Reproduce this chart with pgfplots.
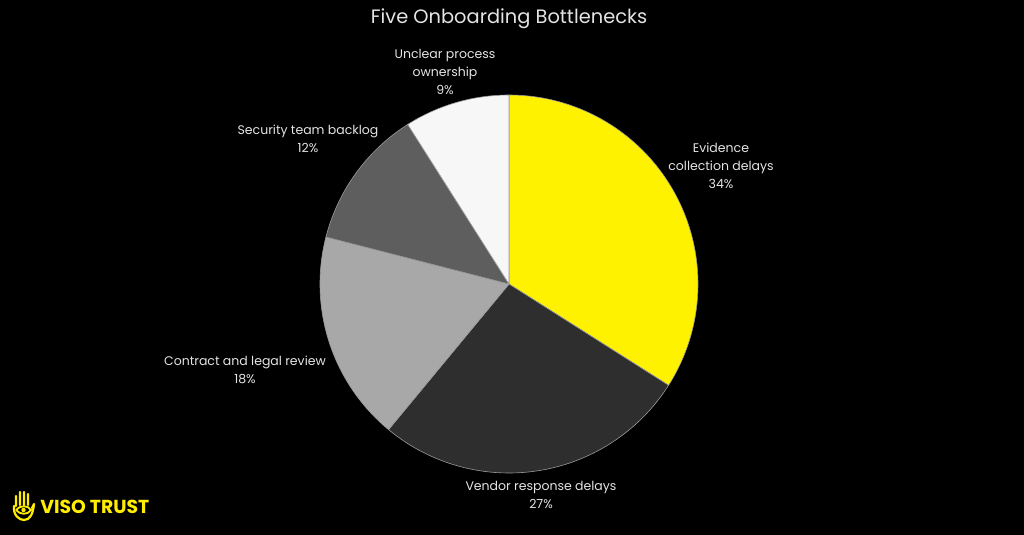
\documentclass[border=0pt]{standalone}
\usepackage{pgfplots}
\pgfplotsset{compat=1.18}
\usepackage{fontspec}
\setmainfont{Poppins}
\definecolor{cEv}{HTML}{FFF200}
\definecolor{cVe}{HTML}{2E2E2E}
\definecolor{cCo}{HTML}{A8A8A8}
\definecolor{cSe}{HTML}{5E5E5E}
\definecolor{cUn}{HTML}{F7F7F7}
\definecolor{sep}{HTML}{9A9A9A}
\definecolor{txt}{HTML}{E4E4E4}
\definecolor{logo}{HTML}{FFEE00}
\begin{document}
\begin{tikzpicture}
\fill[black] (0,0) rectangle (512pt,267.5pt);
\begin{axis}[at={(0,0)}, anchor=south west, scale only axis,
  width=512pt, height=267.5pt, xmin=0, xmax=1024, ymin=0, ymax=535,
  y dir=reverse, hide axis, clip=false]
% slices: start at 12 o'clock, clockwise; percentages 34, 27, 18, 12, 9
\addplot[fill=cEv, draw=sep, line width=0.3pt, domain={90-3.6*34}:{90}, samples=90, variable=\t]
  ({509+189*cos(\t)},{284-189*sin(\t)}) -- (axis cs:509,284) -- cycle;
\addplot[fill=cVe, draw=sep, line width=0.3pt, domain={90-3.6*61}:{90-3.6*34}, samples=80, variable=\t]
  ({509+189*cos(\t)},{284-189*sin(\t)}) -- (axis cs:509,284) -- cycle;
\addplot[fill=cCo, draw=sep, line width=0.3pt, domain={90-3.6*79}:{90-3.6*61}, samples=60, variable=\t]
  ({509+189*cos(\t)},{284-189*sin(\t)}) -- (axis cs:509,284) -- cycle;
\addplot[fill=cSe, draw=sep, line width=0.3pt, domain={90-3.6*91}:{90-3.6*79}, samples=40, variable=\t]
  ({509+189*cos(\t)},{284-189*sin(\t)}) -- (axis cs:509,284) -- cycle;
\addplot[fill=cUn, draw=sep, line width=0.3pt, domain={90-3.6*100}:{90-3.6*91}, samples=30, variable=\t]
  ({509+189*cos(\t)},{284-189*sin(\t)}) -- (axis cs:509,284) -- cycle;

\node[txt, font=\fontsize{9.7pt}{12pt}\selectfont] at (axis cs:509,19) {Five Onboarding Bottlenecks};
\tikzset{lab/.style={txt, font=\fontsize{6.25pt}{9pt}\selectfont, align=center}}
\node[lab] at (axis cs:445,72) {Unclear process\\ownership\\9\%};
\node[lab] at (axis cs:308,139) {Security team backlog\\12\%};
\node[lab] at (axis cs:721,166) {Evidence\\collection delays\\34\%};
\node[lab] at (axis cs:245,370) {Contract and legal review\\18\%};
\node[lab] at (axis cs:541,495) {Vendor response delays\\27\%};

\node[logo, anchor=west, inner sep=0pt, font=\fontsize{9.4pt}{10pt}\selectfont\bfseries] at (axis cs:40,507) {VISO TRUST};
% hand icon
\draw[logo, line width=1.1pt, line cap=round, line join=round]
  (axis cs:16,506) -- (axis cs:16,496) (axis cs:20,505) -- (axis cs:20,492)
  (axis cs:24,505) -- (axis cs:24,492) (axis cs:28,505) -- (axis cs:28,494)
  (axis cs:32,508) -- (axis cs:34,504)
  (axis cs:14,506) .. controls (axis cs:13,515) and (axis cs:19,520) .. (axis cs:24,520)
  .. controls (axis cs:30,520) and (axis cs:33,514) .. (axis cs:34,504);
\draw[logo, line width=0.9pt] (axis cs:16,510) .. controls (axis cs:20,505) and (axis cs:28,505) .. (axis cs:31,510)
  .. controls (axis cs:28,515) and (axis cs:20,515) .. (axis cs:16,510);
\fill[logo] (axis cs:23.5,510) circle[radius=1.1pt];
\end{axis}
\end{tikzpicture}
\end{document}
